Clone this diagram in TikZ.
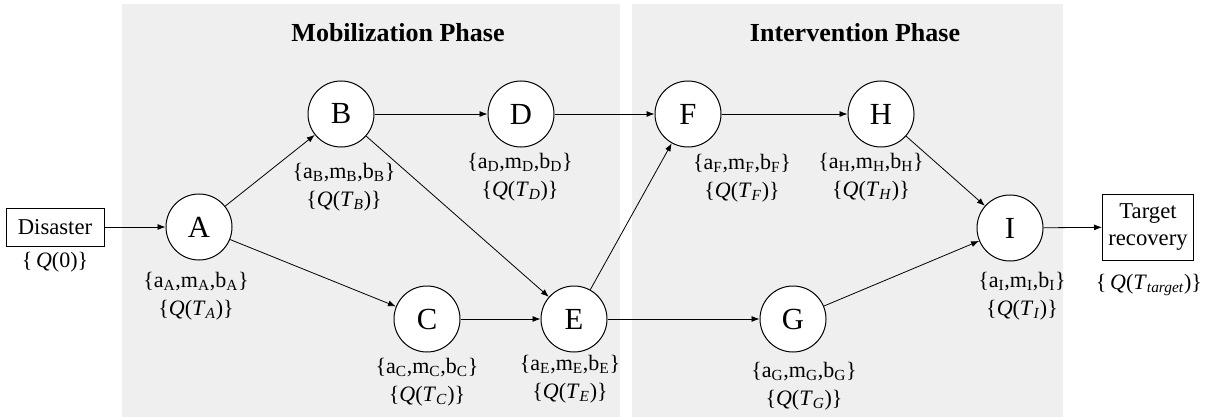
\documentclass[tikz,border=0pt]{standalone}
\usepackage{fontspec}
\setmainfont{Liberation Serif}
\usetikzlibrary{arrows.meta}
\definecolor{panelgray}{RGB}{239,239,239}
\newcommand{\lbl}[1]{\{a\textsubscript{#1},m\textsubscript{#1},b\textsubscript{#1}\}\\\{\textit{Q}(\textit{T}\textsubscript{\textit{#1}})\}}
\begin{document}
\begin{tikzpicture}[x=0.75pt,y=-0.75pt,
 ev/.style={circle,draw,fill=white,line width=0.75pt,minimum size=49.5pt,inner sep=0pt,font=\fontsize{23}{26}\selectfont},
 boxnode/.style={rectangle,draw,fill=white,line width=0.75pt,inner sep=0pt,align=center,font=\fontsize{17}{20.5}\selectfont},
 lab/.style={align=center,inner sep=0pt,font=\fontsize{16.5}{21}\selectfont},
 ttl/.style={anchor=base,inner sep=0pt,font=\fontsize{19.5}{24}\selectfont\bfseries},
 arr/.style={-{Latex[length=6pt,width=4.5pt]},line width=0.6pt}]
\useasboundingbox (0,0) rectangle (1205,417);
\fill[panelgray] (122,4) rectangle (620,417);
\fill[panelgray] (632,4) rectangle (1063,417);
\node[ttl] (t1) at (398,42) {Mobilization Phase};
\node[ttl] (t2) at (855,42) {Intervention Phase};
% boxes
\node[boxnode,minimum width=73.5pt,minimum height=28.5pt] (dis) at (55,227) {Disaster};
\node[boxnode,minimum width=68.25pt,minimum height=49.5pt] (tgt) at (1148,227) {Target\\recovery};
% events
\node[ev] (A) at (199,227) {A};
\node[ev] (B) at (341,114) {B};
\node[ev] (D) at (521,114) {D};
\node[ev] (C) at (427,319) {C};
\node[ev] (E) at (574,319) {E};
\node[ev] (F) at (688,114) {F};
\node[ev] (H) at (881,114) {H};
\node[ev] (G) at (793,319) {G};
\node[ev] (I) at (1010,228) {I};
% labels
\node[lab] (lq0) at (55,262) {\{\,\textit{Q}(0)\}};
\node[lab] (lA) at (196,296) {\lbl{A}};
\node[lab] (lB) at (344,187) {\lbl{B}};
\node[lab] (lD) at (520,177) {\lbl{D}};
\node[lab] (lC) at (427,382) {\lbl{C}};
\node[lab] (lE) at (570,379) {\lbl{E}};
\node[lab] (lF) at (742,178) {\lbl{F}};
\node[lab] (lH) at (871,177) {\lbl{H}};
\node[lab] (lG) at (804,386) {\lbl{G}};
\node[lab] (lI) at (1022,296) {\lbl{I}};
\node[lab] (lT) at (1149,285) {\{\,\textit{Q}(\textit{T}\textsubscript{\textit{target}})\}};
% connectors
\draw[arr] (dis) -- (A);
\draw[arr] (A) -- (B);
\draw[arr] (A) -- (C);
\draw[arr] (B) -- (D);
\draw[arr] (B) -- (E);
\draw[arr] (C) -- (E);
\draw[arr] (D) -- (F);
\draw[arr] (E) -- (F);
\draw[arr] (E) -- (G);
\draw[arr] (F) -- (H);
\draw[arr] (H) -- (I);
\draw[arr] (G) -- (I);
\draw[arr] (I) -- (tgt);
\end{tikzpicture}
\end{document}
